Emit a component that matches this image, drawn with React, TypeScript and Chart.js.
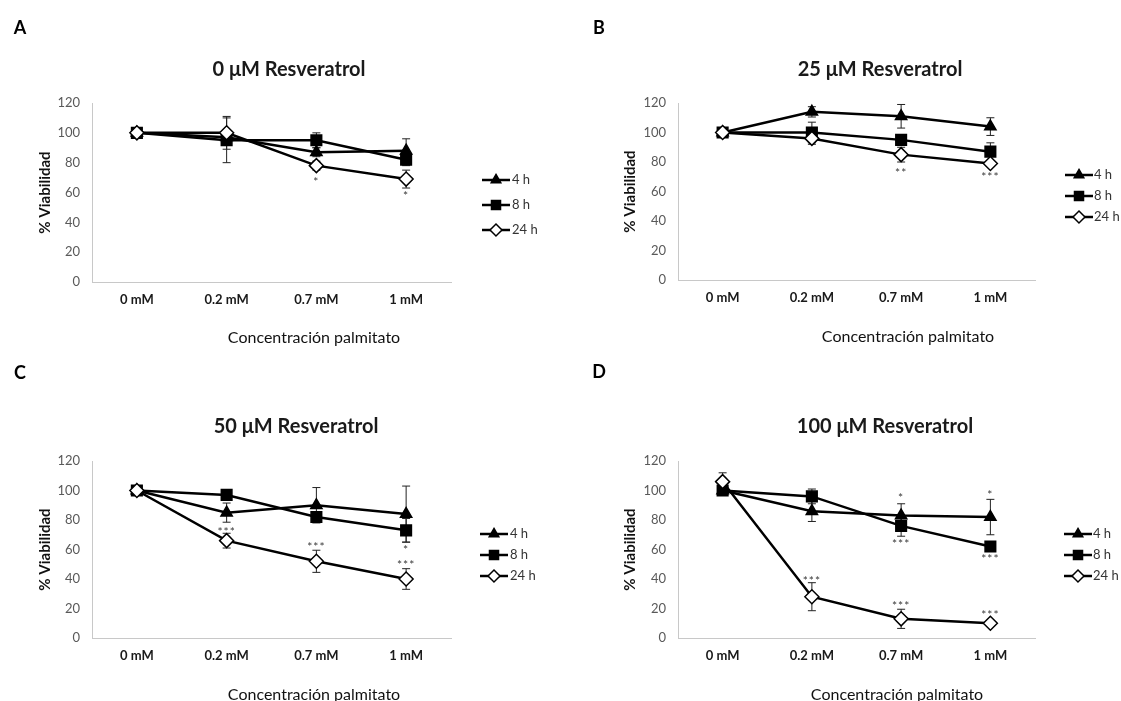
import React, { useEffect, useRef } from 'react';
import { Chart, registerables } from 'chart.js';

Chart.register(...registerables);

// ---------- data ----------
const categories = ['0 mM', '0.2 mM', '0.7 mM', '1 mM'];
const seriesNames = ['4 h', '8 h', '24 h'];
const yTickMin = 0;
const yTickMax = 120;
const yTickStep = 20;
const yAxisTitle = '% Viabilidad';
const xAxisTitle = 'Concentración palmitato';

// Panel A
const titleA = '0 μM Resveratrol';
const a4h = [100, 97, 87, 88];
const a4hErr = [0, 0, 3, 8];
const a8h = [100, 95, 95, 82];
const a8hErr = [0, 15, 5, 4];
const a24h = [100, 100, 78, 69];
const a24hErr = [0, 11, 3, 6];
const aStars = [
  { i: 2, v: 68, t: '*' },
  { i: 3, v: 59, t: '*' },
];

// Panel B
const titleB = '25 μM Resveratrol';
const b4h = [100, 114, 111, 104];
const b4hErr = [0, 3.5, 8, 6];
const b8h = [100, 100, 95, 87];
const b8hErr = [0, 7, 2, 6];
const b24h = [100, 96, 85, 79];
const b24hErr = [0, 4, 5, 2];
const bStars = [
  { i: 2, v: 74, t: '**' },
  { i: 3, v: 71, t: '***' },
];

// Panel C
const titleC = '50 μM Resveratrol';
const c4h = [100, 85, 90, 84];
const c4hErr = [0, 6.5, 12, 19];
const c8h = [100, 97, 82, 73];
const c8hErr = [0, 2, 3, 8];
const c24h = [100, 66, 52, 40];
const c24hErr = [0, 5, 7.5, 7];
const cStars = [
  { i: 1, v: 73, t: '***' },
  { i: 2, v: 63, t: '***' },
  { i: 3, v: 61, t: '*' },
  { i: 3, v: 51, t: '***' },
];

// Panel D
const titleD = '100 μM Resveratrol';
const d4h = [100, 86, 83, 82];
const d4hErr = [0, 7, 8, 12];
const d8h = [100, 96, 76, 62];
const d8hErr = [0, 5, 7, 2];
const d24h = [106, 28, 13, 10];
const d24hErr = [6, 9.5, 6.5, 1];
const dStars = [
  { i: 2, v: 96, t: '*' },
  { i: 3, v: 98, t: '*' },
  { i: 2, v: 65, t: '***' },
  { i: 3, v: 55, t: '***' },
  { i: 1, v: 40, t: '***' },
  { i: 2, v: 23, t: '***' },
  { i: 3, v: 17, t: '***' },
];

// ---------- layout ----------
const FONT = 'Lato, "Open Sans", "Liberation Sans", sans-serif';

type Star = { i: number; v: number; t: string };
type PanelCfg = {
  letter: string;
  title: string;
  s4: number[]; e4: number[];
  s8: number[]; e8: number[];
  s24: number[]; e24: number[];
  stars: Star[];
  x: number; y: number; w: number; h: number;
  area: { left: number; right: number; top: number; bottom: number };
  titlePos: [number, number];
  letterPos: [number, number];
  xTitlePos: [number, number];
  yTitlePad: number;
  legend: { x0: number; tx: number; ys: number[] };
};

const panels: PanelCfg[] = [
  {
    letter: 'A', title: titleA,
    s4: a4h, e4: a4hErr, s8: a8h, e8: a8hErr, s24: a24h, e24: a24hErr, stars: aStars,
    x: 0, y: 0, w: 560, h: 350,
    area: { left: 92, right: 451, top: 103, bottom: 282 },
    titlePos: [289, 70], letterPos: [20, 28], xTitlePos: [314, 338], yTitlePad: 36,
    legend: { x0: 482, tx: 512, ys: [180, 205, 230] },
  },
  {
    letter: 'B', title: titleB,
    s4: b4h, e4: b4hErr, s8: b8h, e8: b8hErr, s24: b24h, e24: b24hErr, stars: bStars,
    x: 560, y: 0, w: 561, h: 350,
    area: { left: 118, right: 475, top: 103, bottom: 280 },
    titlePos: [320, 70], letterPos: [39, 28], xTitlePos: [348, 337], yTitlePad: 61,
    legend: { x0: 505, tx: 534, ys: [175, 196, 217] },
  },
  {
    letter: 'C', title: titleC,
    s4: c4h, e4: c4hErr, s8: c8h, e8: c8hErr, s24: c24h, e24: c24hErr, stars: cStars,
    x: 0, y: 350, w: 560, h: 380,
    area: { left: 92, right: 451, top: 111, bottom: 288 },
    titlePos: [296, 77], letterPos: [20, 23], xTitlePos: [314, 345], yTitlePad: 36,
    legend: { x0: 480, tx: 510, ys: [184, 205, 226] },
  },
  {
    letter: 'D', title: titleD,
    s4: d4h, e4: d4hErr, s8: d8h, e8: d8hErr, s24: d24h, e24: d24hErr, stars: dStars,
    x: 560, y: 350, w: 561, h: 380,
    area: { left: 118, right: 475, top: 111, bottom: 288 },
    titlePos: [325, 77], letterPos: [39, 22], xTitlePos: [337, 345], yTitlePad: 61,
    legend: { x0: 504, tx: 533, ys: [184, 205, 226] },
  },
];

const markerStyles = ['triangle', 'rect', 'rectRot'];
const markerRadius = [6.5, 7.5, 7];
const markerFill = ['#000000', '#000000', '#ffffff'];

function drawMarker(ctx: CanvasRenderingContext2D, kind: string, x: number, y: number, r: number, fill: string) {
  ctx.save();
  ctx.beginPath();
  if (kind === 'triangle') {
    const w = r * Math.sqrt(3) / 2;
    ctx.moveTo(x, y - r);
    ctx.lineTo(x + w, y + r / 2);
    ctx.lineTo(x - w, y + r / 2);
  } else if (kind === 'rect') {
    const s = r * Math.SQRT1_2;
    ctx.rect(x - s, y - s, 2 * s, 2 * s);
  } else {
    ctx.moveTo(x, y - r);
    ctx.lineTo(x + r, y);
    ctx.lineTo(x, y + r);
    ctx.lineTo(x - r, y);
  }
  ctx.closePath();
  ctx.fillStyle = fill;
  ctx.fill();
  ctx.lineWidth = 1.5;
  ctx.strokeStyle = '#000';
  ctx.stroke();
  ctx.restore();
}

function Panel({ cfg }: { cfg: PanelCfg }) {
  const ref = useRef<HTMLCanvasElement>(null);

  useEffect(() => {
    const canvas = ref.current;
    if (!canvas) return;
    const X_H = 40;
    const values = [cfg.s4, cfg.s8, cfg.s24];
    const errs = [cfg.e4, cfg.e8, cfg.e24];

    const deco = {
      id: 'deco',
      beforeDatasetsDraw(chart: any) {
        const ctx = chart.ctx;
        const ys = chart.scales.y;
        ctx.save();
        ctx.strokeStyle = '#222';
        ctx.lineWidth = 1;
        chart.data.datasets.forEach((ds: any, di: number) => {
          const meta = chart.getDatasetMeta(di);
          ds.data.forEach((v: number, j: number) => {
            const e = ds.errors[j];
            if (!e) return;
            const px = meta.data[j].x;
            const yTop = ys.getPixelForValue(v + e);
            const yBot = ys.getPixelForValue(v - e);
            ctx.beginPath();
            ctx.moveTo(px, yTop);
            ctx.lineTo(px, yBot);
            ctx.moveTo(px - 4, yTop);
            ctx.lineTo(px + 4, yTop);
            ctx.moveTo(px - 4, yBot);
            ctx.lineTo(px + 4, yBot);
            ctx.stroke();
          });
        });
        ctx.restore();
      },
      afterDatasetsDraw(chart: any) {
        const ctx = chart.ctx;
        const xs = chart.scales.x;
        const ys = chart.scales.y;
        ctx.save();
        ctx.fillStyle = '#3a3a3a';
        ctx.font = `12px ${FONT}`;
        ctx.textAlign = 'center';
        ctx.textBaseline = 'middle';
        try { (ctx as any).letterSpacing = '1px'; } catch (e) { /* ignore */ }
        cfg.stars.forEach((s) => {
          ctx.fillText(s.t, xs.getPixelForValue(s.i), ys.getPixelForValue(s.v) + 2);
        });
        ctx.restore();
      },
      afterDraw(chart: any) {
        const ctx = chart.ctx;
        ctx.save();
        // panel letter
        ctx.fillStyle = '#000';
        ctx.textAlign = 'center';
        ctx.textBaseline = 'middle';
        ctx.font = `bold 18px ${FONT}`;
        ctx.fillText(cfg.letter, cfg.letterPos[0], cfg.letterPos[1]);
        // title
        ctx.font = `bold 20px ${FONT}`;
        ctx.fillStyle = '#1a1a1a';
        ctx.fillText(cfg.title, cfg.titlePos[0], cfg.titlePos[1]);
        // x axis title
        ctx.font = `16px ${FONT}`;
        ctx.fillStyle = '#111';
        ctx.fillText(xAxisTitle, cfg.xTitlePos[0], cfg.xTitlePos[1]);
        // legend
        seriesNames.forEach((name, k) => {
          const y = cfg.legend.ys[k];
          ctx.beginPath();
          ctx.strokeStyle = '#000';
          ctx.lineWidth = 2.5;
          ctx.moveTo(cfg.legend.x0, y);
          ctx.lineTo(cfg.legend.x0 + 28, y);
          ctx.stroke();
          drawMarker(ctx, markerStyles[k], cfg.legend.x0 + 14, y, markerRadius[k] * 0.85, markerFill[k]);
          ctx.fillStyle = '#333';
          ctx.font = `13px ${FONT}`;
          ctx.textAlign = 'left';
          ctx.fillText(name, cfg.legend.tx, y);
        });
        ctx.restore();
      },
    };

    const datasets = [0, 1, 2].map((k) => ({
      label: seriesNames[k],
      data: values[k],
      errors: errs[k],
      borderColor: '#000',
      borderWidth: 2.5,
      tension: 0,
      pointStyle: markerStyles[k],
      pointRadius: markerRadius[k],
      pointHoverRadius: markerRadius[k],
      pointBackgroundColor: markerFill[k],
      pointBorderColor: '#000',
      pointBorderWidth: 1.5,
      order: 2 - k,
      fill: false,
    }));

    const chart = new Chart(canvas, {
      type: 'line',
      data: { labels: categories, datasets: datasets as any },
      options: {
        responsive: false,
        animation: false,
        events: [],
        layout: {
          padding: {
            left: 0,
            top: cfg.area.top,
            right: cfg.w - cfg.area.right,
            bottom: cfg.h - cfg.area.bottom - X_H,
          },
        },
        plugins: {
          legend: { display: false },
          title: { display: false },
          tooltip: { enabled: false },
        },
        scales: {
          x: {
            type: 'category',
            offset: true,
            grid: { display: false, drawTicks: false, tickLength: 0 },
            border: { display: true, color: '#c8c8c8', width: 1 },
            ticks: {
              padding: 10,
              color: '#1a1a1a',
              font: { family: FONT, size: 13, weight: 'bold' },
              maxRotation: 0,
              autoSkip: false,
            },
            afterFit: (s: any) => { s.height = X_H; },
          },
          y: {
            min: yTickMin,
            max: yTickMax,
            grid: { display: false, drawTicks: false, tickLength: 0 },
            border: { display: true, color: '#c8c8c8', width: 1 },
            ticks: {
              stepSize: yTickStep,
              padding: 12,
              color: '#595959',
              font: { family: FONT, size: 13 },
            },
            title: {
              display: true,
              text: yAxisTitle,
              color: '#111',
              font: { family: FONT, size: 15, weight: 'bold' },
              padding: { top: cfg.yTitlePad, bottom: 0 },
            },
            afterFit: (s: any) => { s.width = cfg.area.left; },
          },
        },
      },
      plugins: [deco],
    });
    return () => chart.destroy();
  }, [cfg]);

  return (
    <canvas
      ref={ref}
      width={cfg.w}
      height={cfg.h}
      style={{ position: 'absolute', left: cfg.x, top: cfg.y, width: cfg.w, height: cfg.h }}
    />
  );
}

export default function App() {
  return (
    <div
      style={{
        position: 'fixed',
        left: 0,
        top: 0,
        width: 1121,
        height: 701,
        overflow: 'hidden',
        background: '#ffffff',
      }}
    >
      {panels.map((p) => (
        <Panel key={p.letter} cfg={p} />
      ))}
    </div>
  );
}
